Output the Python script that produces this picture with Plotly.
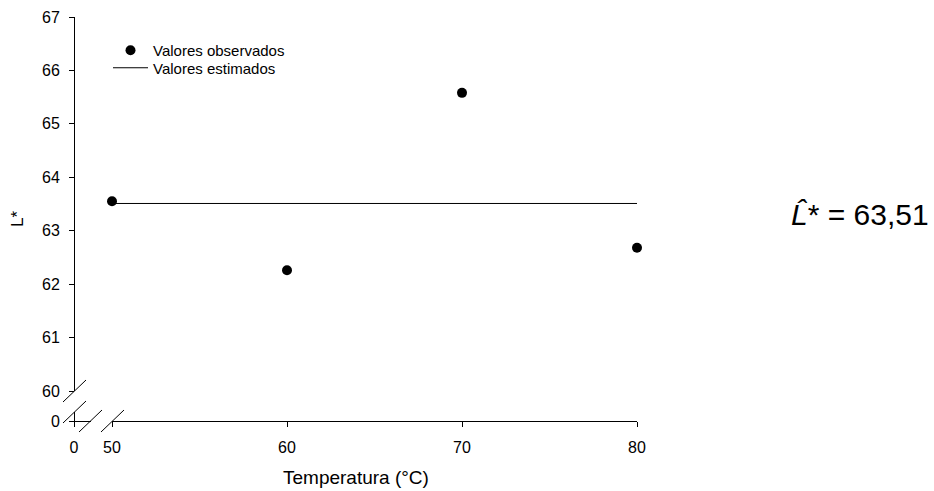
import plotly.graph_objects as go

# Data
temperatura = [50, 60, 70, 80]
l_observado = [63.55, 62.26, 65.58, 62.68]
l_estimado_x = [50, 80]
l_estimado_y = [63.51, 63.51]
x_ticks = [50, 60, 70, 80]
y_ticks = [60, 61, 62, 63, 64, 65, 66, 67]

W, H = 934, 491
def px(x):
    return x / W
def py(y):
    return 1 - y / H

FONT = "Liberation Sans, Arial, sans-serif"
TICKFS = 16

fig = go.Figure()
fig.add_trace(go.Scatter(x=temperatura, y=l_observado, mode="markers",
                         marker=dict(color="black", size=10), cliponaxis=False,
                         name="Valores observados", xaxis="x", yaxis="y",
                         legend="legend"))
fig.add_trace(go.Scatter(x=l_estimado_x, y=l_estimado_y, mode="lines",
                         line=dict(color="black", width=1), cliponaxis=False,
                         name="Valores estimados", xaxis="x", yaxis="y",
                         legend="legend2"))
# invisible trace for broken-axis segments
fig.add_trace(go.Scatter(x=[0], y=[0], mode="markers", marker=dict(opacity=0),
                         showlegend=False, hoverinfo="skip", xaxis="x2", yaxis="y2"))

axcommon = dict(showgrid=False, zeroline=False, showline=True, linecolor="black",
                linewidth=1, ticks="outside", ticklen=5, tickcolor="black",
                tickfont=dict(family=FONT, size=TICKFS, color="black"))

legcommon = dict(xanchor="left", yanchor="middle", bgcolor="rgba(0,0,0,0)",
                 font=dict(family=FONT, size=15, color="black"), itemwidth=35,
                 borderwidth=0)

fig.update_layout(
    width=W, height=H,
    margin=dict(l=0, r=0, t=0, b=0),
    paper_bgcolor="white", plot_bgcolor="white",
    font=dict(family=FONT, color="black"),
    xaxis=dict(domain=[px(112), px(637)], range=[50, 80], tickvals=x_ticks,
               anchor="free", position=py(421), automargin=False,
               ticklabelstandoff=7, **axcommon),
    yaxis=dict(domain=[py(391), py(17)], range=[60, 67], tickvals=y_ticks,
               anchor="free", position=px(74), automargin=False,
               ticklabelstandoff=6, **axcommon),
    xaxis2=dict(domain=[px(74), px(90.5)], range=[0, 1], tickvals=[0],
                anchor="free", position=py(421), automargin=False,
                ticklabelstandoff=7, **axcommon),
    yaxis2=dict(domain=[py(421), py(412)], range=[0, 1], tickvals=[0],
                anchor="free", position=px(74), automargin=False,
                ticklabelstandoff=6, **axcommon),
    showlegend=True,
    legend=dict(x=px(108), y=py(50.5), **legcommon),
    legend2=dict(x=px(108), y=py(68), **legcommon),
)

# axis break marks
breaks = [((63, 402), (86, 380)), ((63, 423), (86, 401)),
          ((79, 432), (102, 410)), ((101, 432), (124, 410))]
for (x0, y0), (x1, y1) in breaks:
    fig.add_shape(type="line", xref="paper", yref="paper",
                  x0=px(x0), y0=py(y0), x1=px(x1), y1=py(y1),
                  line=dict(color="black", width=1))

fig.add_annotation(x=px(356), y=py(477), xref="paper", yref="paper",
                   xanchor="center", yanchor="middle",
                   text="Temperatura (°C)", showarrow=False,
                   font=dict(family=FONT, size=19))
fig.add_annotation(x=px(17), y=py(219), xref="paper", yref="paper",
                   xanchor="center", yanchor="middle",
                   text="L*", showarrow=False, textangle=-90,
                   font=dict(family=FONT, size=17))
fig.add_annotation(x=px(931), y=py(214), xref="paper", yref="paper",
                   xanchor="right", yanchor="middle",
                   text="<i>L\u0302</i>* = 63,51", showarrow=False,
                   font=dict(family=FONT, size=30))

fig.write_html("out.html")
